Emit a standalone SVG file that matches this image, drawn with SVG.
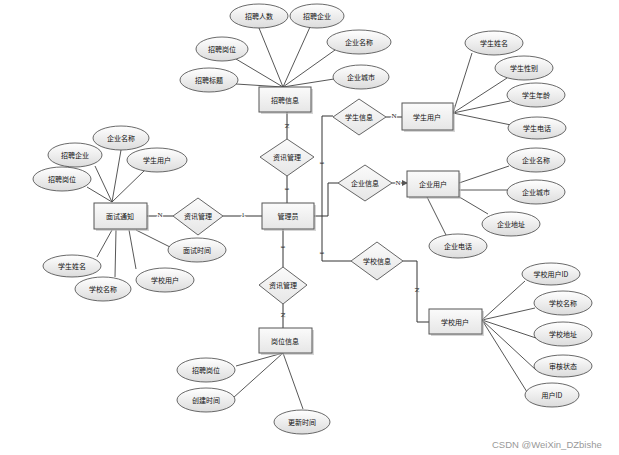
<svg xmlns="http://www.w3.org/2000/svg" width="619" height="455" viewBox="0 0 619 455">
<defs>
<linearGradient id="gE" x1="0" y1="0" x2="0" y2="1"><stop offset="0" stop-color="#ffffff"/><stop offset="1" stop-color="#dcdcdc"/></linearGradient>
<linearGradient id="gB" x1="0" y1="0" x2="0" y2="1"><stop offset="0" stop-color="#fbfbfb"/><stop offset="1" stop-color="#e6e6e6"/></linearGradient>
<marker id="arr" markerWidth="6" markerHeight="6" refX="5" refY="3" orient="auto" markerUnits="userSpaceOnUse"><path d="M0,0 L6,3 L0,6 z" fill="#555"/></marker>
<style>
.e{fill:url(#gE);stroke:#444;stroke-width:0.8}
.b{fill:url(#gB);stroke:#555;stroke-width:1}
.sh{fill:#bbb;opacity:0.6}
.d{fill:url(#gB);stroke:#666;stroke-width:1}
.t{font-family:"Noto Sans CJK SC","Liberation Sans",sans-serif;font-size:7px;fill:#111;text-anchor:middle;dominant-baseline:central}
.l{font-family:"Liberation Serif",serif;font-size:7px;fill:#222;text-anchor:middle;dominant-baseline:central}
.c{fill:none;stroke:#333;stroke-width:1}
.a{fill:none;stroke:#444;stroke-width:0.9}
</style>
</defs>
<rect width="619" height="455" fill="#fff"/>

<g id="connectors">
<!-- attribute lines: 招聘信息 -->
<path class="a" d="M283,87 L259,28 M283,87 L310,27 M283,87 L335,50 M283,87 L236,59 M283,87 L236,84 M283,87 L334,79"/>
<!-- 学生用户 -->
<path class="a" d="M453,113 L472,53 M453,113 L507,78 M453,113 L510,101 M453,113 L511,125"/>
<!-- 企业用户 -->
<path class="a" d="M459,183 L509,166 M459,190 L508,190 M456,195 L488,214 M427,197 L446,235"/>
<!-- 学校用户 -->
<path class="a" d="M482,320 L525,281 M482,320 L535,308 M482,320 L536,338 M482,320 L536,370 M482,320 L527,392"/>
<!-- 面试通知 -->
<path class="a" d="M112,202 L121,150 M112,202 L95,166 M112,202 L145,170 M112,202 L87,187 M112,230 L97,257 M116,230 L115,277 M129,230 L136,269 M136,230 L170,247"/>
<!-- 岗位信息 -->
<path class="a" d="M283,353 L236,366 M283,353 L233,398 M283,353 L303,409"/>
<!-- relationship lines -->
<path class="c" d="M287,112 L287,139"/>
<path class="c" d="M287,176 L287,203"/>
<path class="c" d="M283,229 L283,267"/>
<path class="c" d="M283,304 L283,328"/>
<path class="c" d="M262,216 L223,216"/>
<path class="c" d="M173,216 L147,216"/>
<path class="c" d="M314,216 L322,216"/>
<path class="c" d="M333,116 L322,116 L322,261 L351,261"/>
<path class="c" d="M322,216 L328,216 L328,183 L338,183"/>
<path class="c" d="M386,117 L402,117"/>
<path class="c" d="M392,183 L407,183" marker-end="url(#arr)"/>
<path class="c" d="M403,261 L417,261 L417,322 L429,322"/>
<!-- cardinality labels -->
<text class="l" transform="translate(287,126) rotate(90)">N</text>
<text class="l" transform="translate(287,189) rotate(90)">1</text>
<text class="l" transform="translate(283,247) rotate(90)">1</text>
<text class="l" transform="translate(283,315) rotate(90)">N</text>
<text class="l" x="243" y="215" fill="#222" stroke="#fff" stroke-width="2" paint-order="stroke">1</text>
<text class="l" x="160" y="215" stroke="#fff" stroke-width="2" paint-order="stroke">N</text>
<text class="l" transform="translate(322,163) rotate(90)">1</text>
<text class="l" transform="translate(322,253) rotate(90)">1</text>
<text class="l" x="394" y="116" stroke="#fff" stroke-width="2" paint-order="stroke">N</text>
<text class="l" x="398" y="183" stroke="#fff" stroke-width="2" paint-order="stroke">N</text>
<text class="l" transform="translate(417,290) rotate(90)">N</text>
</g>

<!-- entities -->
<g id="n-zhaopinxinxi"><rect class="sh" x="261" y="89" width="52" height="25"/><rect class="b" x="259" y="87" width="52" height="25"/><text class="t" x="285" y="100">招聘信息</text></g>
<g id="n-xueshengyonghu"><rect class="sh" x="404" y="105" width="51" height="27"/><rect class="b" x="402" y="103" width="51" height="27"/><text class="t" x="427" y="117">学生用户</text></g>
<g id="n-guanliyuan"><rect class="sh" x="264" y="205" width="52" height="26"/><rect class="b" x="262" y="203" width="52" height="26"/><text class="t" x="288" y="216">管理员</text></g>
<g id="n-qiyeyonghu"><rect class="sh" x="409" y="173" width="52" height="26"/><rect class="b" x="407" y="171" width="52" height="26"/><text class="t" x="433" y="184">企业用户</text></g>
<g id="n-xuexiaoyonghu"><rect class="sh" x="431" y="311" width="53" height="25"/><rect class="b" x="429" y="309" width="53" height="25"/><text class="t" x="455" y="322">学校用户</text></g>
<g id="n-mianshitongzhi"><rect class="sh" x="96" y="205" width="53" height="26"/><rect class="b" x="94" y="203" width="53" height="26"/><text class="t" x="120" y="216">面试通知</text></g>
<g id="n-gangweixinxi"><rect class="sh" x="261" y="330" width="53" height="25"/><rect class="b" x="259" y="328" width="53" height="25"/><text class="t" x="285" y="341">岗位信息</text></g>

<!-- relationships -->
<g id="r-xueshengxinxi"><path class="d" d="M359,99 L386,117 L359,135 L333,117 z"/><text class="t" x="359" y="117">学生信息</text></g>
<g id="r-zixunguanli-top"><path class="d" d="M287,139 L314,157 L287,176 L260,157 z"/><text class="t" x="287" y="157">资讯管理</text></g>
<g id="r-qiyexinxi"><path class="d" d="M365,165 L392,183 L365,201 L338,183 z"/><text class="t" x="365" y="183">企业信息</text></g>
<g id="r-xuexiaoxinxi"><path class="d" d="M377,242 L403,261 L377,280 L351,261 z"/><text class="t" x="377" y="261">学校信息</text></g>
<g id="r-zixunguanli-left"><path class="d" d="M198,198 L223,216 L198,235 L173,216 z"/><text class="t" x="198" y="216">资讯管理</text></g>
<g id="r-zixunguanli-bottom"><path class="d" d="M283,267 L307,285 L283,304 L259,285 z"/><text class="t" x="283" y="285">资讯管理</text></g>

<!-- attributes -->
<g id="a-zprs"><ellipse class="e" cx="259" cy="16" rx="29" ry="12"/><text class="t" x="259" y="16">招聘人数</text></g>
<g id="a-zpqy"><ellipse class="e" cx="317" cy="16" rx="27" ry="12"/><text class="t" x="317" y="16">招聘企业</text></g>
<g id="a-qymc1"><ellipse class="e" cx="359" cy="42" rx="32" ry="12"/><text class="t" x="359" y="42">企业名称</text></g>
<g id="a-zpgw1"><ellipse class="e" cx="222" cy="49" rx="26" ry="12"/><text class="t" x="222" y="49">招聘岗位</text></g>
<g id="a-zpbt"><ellipse class="e" cx="209" cy="80" rx="29" ry="12"/><text class="t" x="209" y="80">招聘标题</text></g>
<g id="a-qycs1"><ellipse class="e" cx="361" cy="77" rx="28" ry="12"/><text class="t" x="361" y="77">企业城市</text></g>

<g id="a-xsxm1"><ellipse class="e" cx="494" cy="43" rx="29" ry="12"/><text class="t" x="494" y="43">学生姓名</text></g>
<g id="a-xsxb"><ellipse class="e" cx="524" cy="68" rx="29" ry="12"/><text class="t" x="524" y="68">学生性别</text></g>
<g id="a-xsnl"><ellipse class="e" cx="536" cy="95" rx="29" ry="12"/><text class="t" x="536" y="95">学生年龄</text></g>
<g id="a-xsdh"><ellipse class="e" cx="537" cy="128" rx="29" ry="11"/><text class="t" x="537" y="128">学生电话</text></g>

<g id="a-qymc2"><ellipse class="e" cx="536" cy="160" rx="29" ry="12"/><text class="t" x="536" y="160">企业名称</text></g>
<g id="a-qycs2"><ellipse class="e" cx="536" cy="192" rx="29" ry="12"/><text class="t" x="536" y="192">企业城市</text></g>
<g id="a-qydz"><ellipse class="e" cx="511" cy="224" rx="29" ry="12"/><text class="t" x="511" y="224">企业地址</text></g>
<g id="a-qydh"><ellipse class="e" cx="458" cy="246" rx="29" ry="12"/><text class="t" x="458" y="246">企业电话</text></g>

<g id="a-xxyhid"><ellipse class="e" cx="551" cy="274" rx="29" ry="11"/><text class="t" x="551" y="274">学校用户ID</text></g>
<g id="a-xxmc2"><ellipse class="e" cx="563" cy="303" rx="29" ry="12"/><text class="t" x="563" y="303">学校名称</text></g>
<g id="a-xxdz"><ellipse class="e" cx="563" cy="334" rx="29" ry="12"/><text class="t" x="563" y="334">学校地址</text></g>
<g id="a-shzt"><ellipse class="e" cx="563" cy="366" rx="29" ry="11"/><text class="t" x="563" y="366">审核状态</text></g>
<g id="a-yhid"><ellipse class="e" cx="552" cy="395" rx="27" ry="12"/><text class="t" x="552" y="395">用户ID</text></g>

<g id="a-qymc3"><ellipse class="e" cx="121" cy="138" rx="28" ry="12"/><text class="t" x="121" y="138">企业名称</text></g>
<g id="a-zpqy2"><ellipse class="e" cx="75" cy="155" rx="27" ry="12"/><text class="t" x="75" y="155">招聘企业</text></g>
<g id="a-xsyh"><ellipse class="e" cx="157" cy="160" rx="30" ry="12"/><text class="t" x="157" y="160">学生用户</text></g>
<g id="a-zpgw2"><ellipse class="e" cx="62" cy="179" rx="29" ry="12"/><text class="t" x="62" y="179">招聘岗位</text></g>
<g id="a-mssj"><ellipse class="e" cx="197" cy="250" rx="29" ry="12"/><text class="t" x="197" y="250">面试时间</text></g>
<g id="a-xsxm2"><ellipse class="e" cx="72" cy="266" rx="29" ry="11"/><text class="t" x="72" y="266">学生姓名</text></g>
<g id="a-xxmc1"><ellipse class="e" cx="103" cy="289" rx="28" ry="12"/><text class="t" x="103" y="289">学校名称</text></g>
<g id="a-xxyh"><ellipse class="e" cx="165" cy="280" rx="29" ry="12"/><text class="t" x="165" y="280">学校用户</text></g>

<g id="a-zpgw3"><ellipse class="e" cx="206" cy="370" rx="29" ry="12"/><text class="t" x="206" y="370">招聘岗位</text></g>
<g id="a-cjsj"><ellipse class="e" cx="206" cy="400" rx="29" ry="12"/><text class="t" x="206" y="400">创建时间</text></g>
<g id="a-gxsj"><ellipse class="e" cx="302" cy="422" rx="28" ry="12"/><text class="t" x="302" y="422">更新时间</text></g>

<text x="492" y="444" font-family="Liberation Sans, sans-serif" font-size="9.5" fill="#999" dominant-baseline="central">CSDN @WeiXin_DZbishe</text>
</svg>
